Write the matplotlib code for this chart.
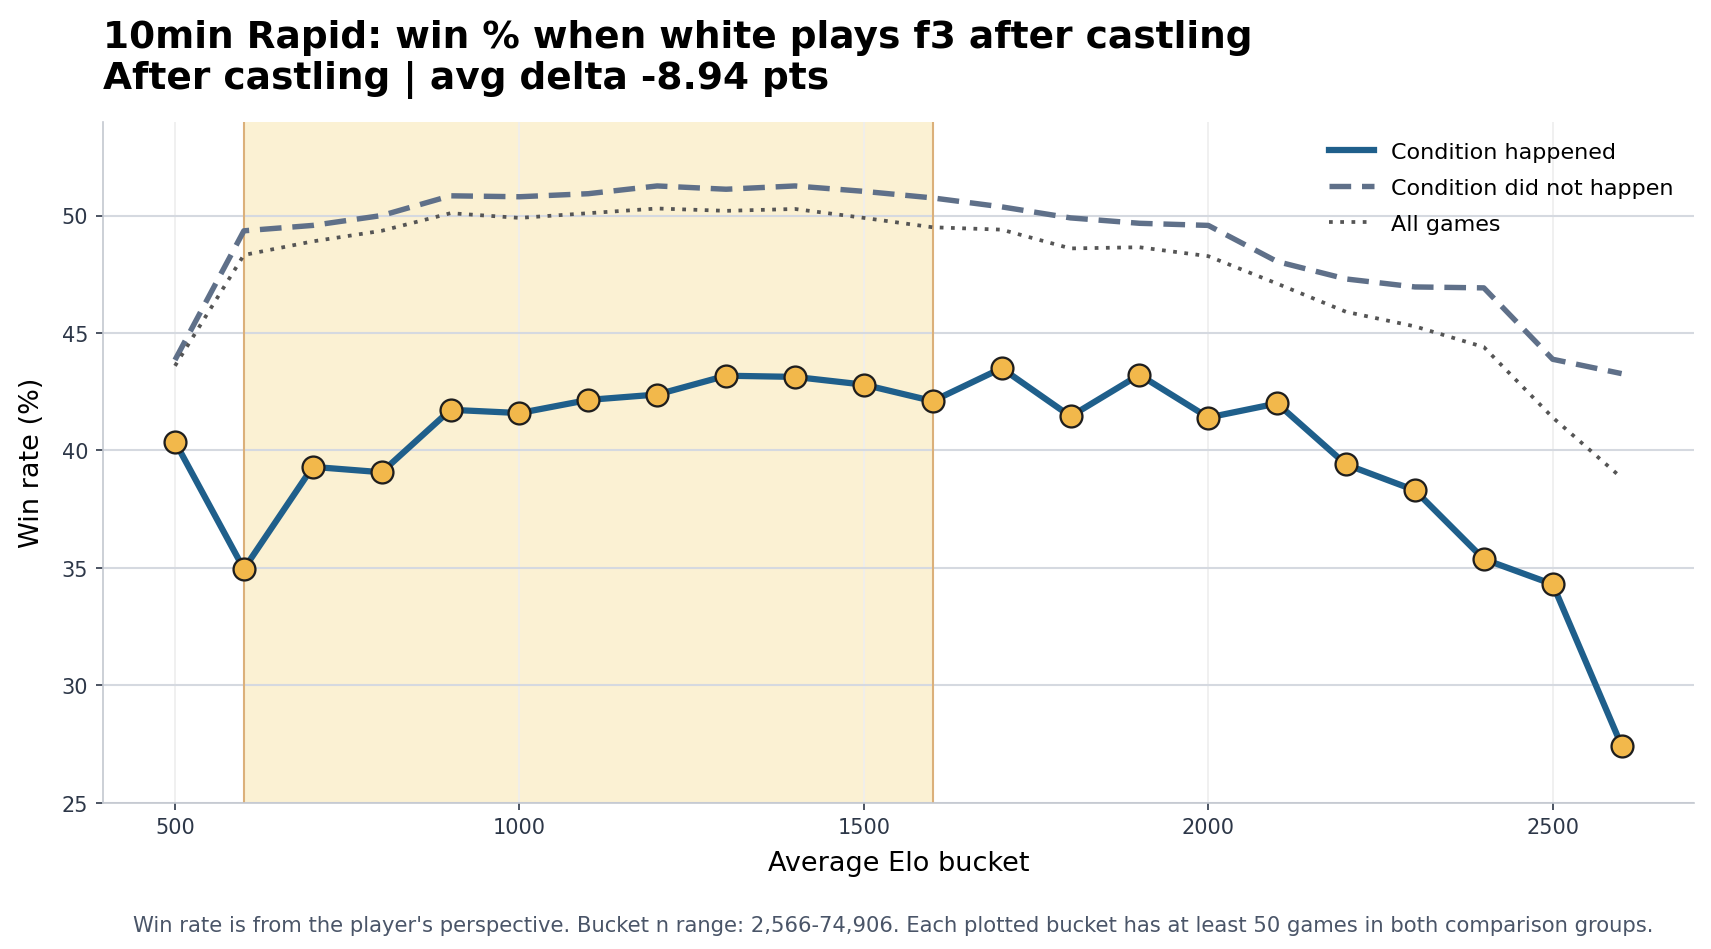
import matplotlib
matplotlib.use("Agg")
from matplotlib import pyplot as plt

elo = [500, 600, 700, 800, 900, 1000, 1100, 1200, 1300, 1400, 1500,
       1600, 1700, 1800, 1900, 2000, 2100, 2200, 2300, 2400, 2500, 2600]

happened = [40.37, 34.95, 39.3, 39.07, 41.73, 41.59, 42.15, 42.38, 43.18, 43.13, 42.8,
            42.1, 43.5, 41.45, 43.22, 41.4, 42.0, 39.4, 38.3, 35.37, 34.3, 27.43]

not_happened = [43.85, 49.35, 49.58, 50.0, 50.84, 50.8, 50.93, 51.26, 51.12, 51.26, 51.03,
                50.75, 50.37, 49.9, 49.67, 49.58, 48.04, 47.3, 46.96, 46.92, 43.88, 43.27]

all_games = [43.6, 48.32, 48.9, 49.35, 50.1, 49.9, 50.1, 50.3, 50.2, 50.28, 49.9,
             49.5, 49.4, 48.6, 48.65, 48.27, 47.1, 45.9, 45.28, 44.4, 41.4, 38.83]

band = (600, 1600)

fig, ax = plt.subplots(figsize=(11.407, 6.333), dpi=150)
fig.subplots_adjust(left=0.06, right=0.99, top=0.871, bottom=0.154)

# highlighted elo band
ax.axvspan(band[0], band[1], color="#fbf1d3", zorder=0, lw=0)
ax.axvline(band[0], color="#dbb07a", lw=1.0, zorder=1)
ax.axvline(band[1], color="#dbb07a", lw=1.0, zorder=1)

ax.plot(elo, happened, color="#1f5f8b", lw=3, label="Condition happened", zorder=4)
ax.plot(elo, not_happened, color="#5f7089", lw=2.6, ls=(0, (4, 2)), label="Condition did not happen", zorder=3)
ax.plot(elo, all_games, color="#555555", lw=1.8, ls=(0, (1, 2)), label="All games", zorder=3)
ax.plot(elo, happened, ls="none", marker="o", markersize=10.5,
        markerfacecolor="#f2b84b", markeredgecolor="#1e1e1e", markeredgewidth=1.1, zorder=5)

ax.set_xlim(395, 2705)
ax.set_ylim(25, 54)
ax.set_yticks([25, 30, 35, 40, 45, 50])
ax.set_xticks([500, 1000, 1500, 2000, 2500])

ax.grid(axis="y", color="#d5d9e0", lw=1)
ax.grid(axis="x", color="#eeeeee", lw=0.8)
ax.set_axisbelow(True)
for s in ["top", "right"]:
    ax.spines[s].set_visible(False)
for s in ["left", "bottom"]:
    ax.spines[s].set_color("#c3c8d0")
ax.tick_params(colors="#2d3748", labelsize=10)

ax.set_xlabel("Average Elo bucket", fontsize=13, labelpad=6)
ax.set_ylabel("Win rate (%)", fontsize=13, labelpad=8)
ax.set_title("10min Rapid: win % when white plays f3 after castling\nAfter castling | avg delta -8.94 pts",
             loc="left", fontsize=18, fontweight="bold", pad=16)

ax.legend(loc="upper right", frameon=False, fontsize=10.7, labelspacing=0.72)

fig.text(0.522, 0.025, "Win rate is from the player's perspective. Bucket n range: 2,566-74,906. "
         "Each plotted bucket has at least 50 games in both comparison groups.",
         ha="center", va="center", fontsize=10.15, color="#4a5568")

fig.savefig("out.png", dpi=150)
